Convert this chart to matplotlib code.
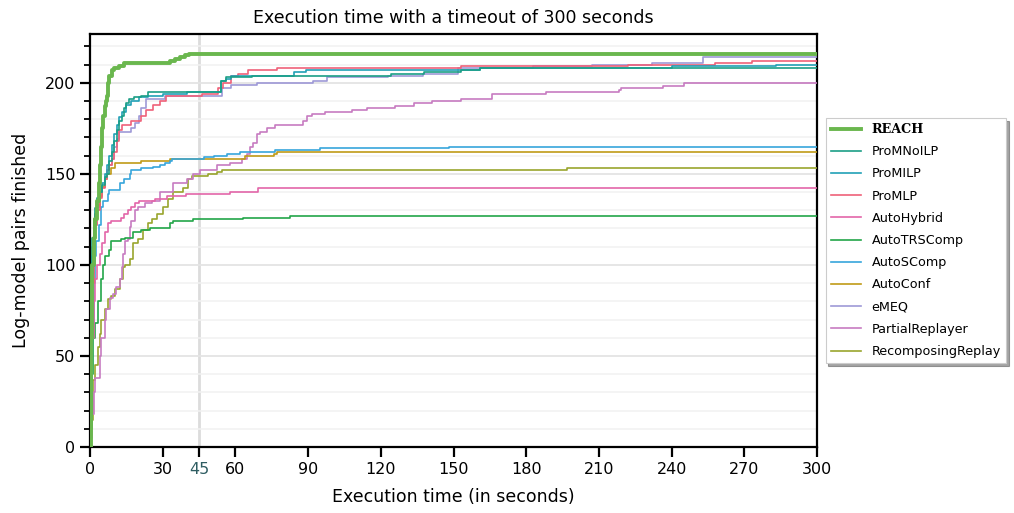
import matplotlib
matplotlib.use("Agg")
import matplotlib.pyplot as plt
from matplotlib.ticker import MultipleLocator, FixedLocator

plt.rcParams['font.family'] = ['DejaVu Sans']

# ---- data (time in seconds, cumulative pairs finished) ----
reach_t = [0, 0.3, 0.6, 1.0, 1.5, 2, 3, 3.5, 4, 4.5, 5, 5.5, 6, 6.5, 7, 7.5, 8, 9, 10, 12, 14, 33, 35, 37, 39, 41, 300]
reach_v = [0, 20, 60, 100, 115, 125, 135, 145, 155, 165, 175, 182, 187, 190, 193, 200, 204, 207, 208, 209, 211, 212, 213, 214, 215, 216, 216]

promnoilp_t = [0, 0.3, 0.6, 1, 1.5, 2, 3, 4, 5, 6, 7, 8, 9, 10, 11, 12, 13, 14, 15, 16, 18, 21, 24, 54, 56, 67, 124, 138, 153, 161, 300]
promnoilp_v = [0, 40, 90, 115, 125, 131, 137, 140, 144, 148, 150, 157, 162, 168, 174, 179, 182, 186, 189, 191, 192, 193, 195, 201, 203, 204, 205, 206, 207, 208, 208]

promilp_t = [0, 0.4, 0.7, 1, 2, 3, 4, 5, 6, 7, 8, 9, 10, 11, 12, 13, 15, 17, 20, 24, 30, 40, 54, 56, 58, 84, 89, 161, 240, 283, 300]
promilp_v = [0, 30, 80, 105, 125, 135, 140, 145, 150, 155, 160, 166, 172, 177, 181, 184, 188, 190, 192, 193, 194, 195, 201, 202, 204, 206, 207, 208, 209, 210, 210]

promlp_t = [0, 0.5, 1, 1.5, 2, 3, 4, 5, 6, 7, 8, 9, 10, 11, 12, 13, 17, 21, 23, 26, 29, 31.5, 46, 52.8, 55, 58, 61, 65, 77, 153, 222, 258, 273, 300]
promlp_v = [0, 40, 90, 110, 122, 130, 137, 142, 147, 152, 155, 158, 162, 168, 174, 177, 179, 182, 185, 188, 190, 193, 194, 197, 200, 204, 205, 207, 208, 209, 210, 211, 212, 212]

autohybrid_t = [0, 0.5, 1, 1.5, 2, 3, 4, 5, 6, 7.4, 8.5, 12.9, 14, 15.7, 17, 18.5, 20, 26.7, 31.6, 39.8, 57.8, 69.5, 300]
autohybrid_v = [0, 30, 60, 80, 92, 100, 106, 112, 118, 123, 124, 126, 128, 130, 132, 134, 135, 136, 138, 139, 140, 142, 142]

autotrscomp_t = [0, 0.3, 0.8, 1.4, 1.9, 3.3, 4.7, 5.5, 6, 7.7, 8.8, 12.9, 14.3, 17.8, 21.2, 24.6, 33, 34.4, 42.6, 63.3, 82.5, 300]
autotrscomp_v = [0, 10, 40, 60, 68, 80, 92, 100, 105, 108, 113, 114, 115, 118, 119, 120, 123, 124, 125, 126, 127, 127]

autoscomp_t = [0, 0.5, 1, 1.5, 2, 2.6, 3.5, 4.7, 5.4, 7.4, 8, 12.2, 14, 16.3, 17, 21.2, 26, 29, 31, 33, 34, 47, 51, 56.4, 62, 76.4, 94.9, 148, 300]
autoscomp_v = [0, 20, 60, 90, 105, 113, 122, 132, 135, 139, 141, 145, 147, 150, 152, 153, 154, 155, 156, 157, 158, 159, 160, 161, 162, 163, 164, 165, 165]

autoconf_t = [0, 0.3, 0.6, 1, 1.5, 2, 3, 4, 5, 6, 7, 8.8, 10.2, 21, 33, 64, 76, 77, 300]
autoconf_v = [0, 30, 80, 110, 122, 128, 133, 138, 143, 147, 150, 153, 156, 157, 158, 160, 161, 162, 162]

emeq_t = [0, 0.5, 1, 1.5, 2, 3, 4, 5, 6, 7, 8, 9, 10, 11, 12, 17, 18.5, 20, 21, 23, 31, 54.6, 58, 69, 92, 97.7, 122.8, 137.5, 152, 183, 207, 232, 253, 300]
emeq_v = [0, 45, 95, 112, 122, 132, 138, 143, 148, 152, 155, 158, 165, 169, 173, 175, 178, 182, 186, 191, 193, 197, 199, 200, 201, 203, 204, 205, 208, 209, 210, 211, 214, 214]

partial_t = [0, 0.5, 1, 1.5, 1.9, 3.6, 4, 4.7, 6, 6.7, 8.1, 9.4, 10.9, 12.2, 13, 13.6, 14.3, 15.7, 16.4, 17.1, 18.5, 19.8, 22.6, 25.4, 28.9, 34.4, 39.9, 42.6, 45.4, 52.3, 57.8, 62.6, 64.7, 66, 67.4, 68.8, 70.2, 72.9, 76.4, 87.3, 88, 89.4, 91.5, 97, 108, 114.4, 126, 133.7, 141.3, 153, 166, 188.2, 218.4, 219, 236.3, 245.2, 300]
partial_v = [0, 5, 18, 30, 38, 38, 50, 60, 70, 76, 82, 84, 88, 92, 99, 106, 113, 114, 121, 124, 130, 132, 134, 135, 140, 145, 147, 150, 152, 155, 156, 158, 161, 165, 167, 172, 173, 175, 177, 177, 179, 182, 183, 184, 185, 186, 187, 189, 190, 191, 194, 195, 196, 197, 198, 200, 200]

recomp_t = [0, 0.5, 1.2, 2, 3.3, 4, 4.7, 6, 7.4, 8.8, 10.2, 12.2, 13.6, 14.3, 16.4, 17.8, 19.9, 22, 24, 25.4, 27.5, 30.2, 32.3, 34.4, 38.5, 40.6, 42, 48.8, 52.3, 54.3, 197, 300]
recomp_v = [0, 15, 37, 45, 55, 62, 70, 76, 81, 83, 87, 92, 99, 100, 103, 112, 114, 119, 123, 125, 128, 132, 136, 140, 142, 147, 149, 150, 151, 152, 153, 153]

series = [
    ("REACH", reach_t, reach_v, "#6ab74e", 2.8),
    ("ProMNoILP", promnoilp_t, promnoilp_v, "#1b9e86", 1.2),
    ("ProMILP", promilp_t, promilp_v, "#21a1b6", 1.2),
    ("ProMLP", promlp_t, promlp_v, "#ef6179", 1.2),
    ("AutoHybrid", autohybrid_t, autohybrid_v, "#e366a9", 1.2),
    ("AutoTRSComp", autotrscomp_t, autotrscomp_v, "#22a649", 1.2),
    ("AutoSComp", autoscomp_t, autoscomp_v, "#37a6dc", 1.2),
    ("AutoConf", autoconf_t, autoconf_v, "#c09b18", 1.2),
    ("eMEQ", emeq_t, emeq_v, "#9e99d7", 1.2),
    ("PartialReplayer", partial_t, partial_v, "#c77bc1", 1.2),
    ("RecomposingReplay", recomp_t, recomp_v, "#99a52d", 1.2),
]

x_ticks = [0, 30, 45, 60, 90, 120, 150, 180, 210, 240, 270, 300]
timeout = 300
highlight = 45

fig = plt.figure(figsize=(10.14, 5.13), dpi=100)
ax = fig.add_axes([0.0888, 0.1287, 0.7169, 0.805])

# grid
ax.yaxis.set_major_locator(MultipleLocator(50))
ax.yaxis.set_minor_locator(MultipleLocator(10))
ax.grid(True, which='major', axis='y', color='#e4e4e4', lw=1.3, zorder=0)
ax.grid(True, which='minor', axis='y', color='#f1f1f1', lw=1.1, zorder=0)
ax.axvline(highlight, color='#dcdcdc', lw=2.0, zorder=1)

handles = []
for name, t, v, c, lw in series[::-1]:
    h, = ax.step(t, v, where='post', color=c, lw=lw, label=name, zorder=3 if name != "REACH" else 4)
    handles.append(h)
handles = handles[::-1]

ax.set_xlim(0, timeout)
ax.set_ylim(0, 216 * 1.05)
ax.xaxis.set_major_locator(FixedLocator(x_ticks))
ax.set_xticklabels([str(x) for x in x_ticks])
for lab, val in zip(ax.get_xticklabels(), x_ticks):
    if val == highlight:
        lab.set_color('#2f5d62')

for s in ax.spines.values():
    s.set_linewidth(1.6)
ax.tick_params(axis='both', which='major', length=7, width=1.6, labelsize=11.5, direction='out')
ax.tick_params(axis='y', which='minor', length=4.5, width=1.3, direction='out')

ax.set_title("Execution time with a timeout of 300 seconds", fontsize=12.5, pad=8)
ax.set_xlabel("Execution time (in seconds)", fontsize=12.5, labelpad=8)
ax.set_ylabel("Log-model pairs finished", fontsize=12.5, labelpad=11)

leg = ax.legend(handles=handles, loc='center left', bbox_to_anchor=(1.012, 0.5),
                fontsize=9.2, frameon=True, shadow=True, fancybox=False,
                handlelength=2.4, handletextpad=0.8, borderaxespad=0,
                labelspacing=0.72, edgecolor='#cccccc')
leg.get_frame().set_linewidth(0.8)
for txt in leg.get_texts():
    if txt.get_text() == "REACH":
        txt.set_fontfamily('DejaVu Serif')
        txt.set_fontweight('bold')

fig.savefig("out.png", dpi=100)
